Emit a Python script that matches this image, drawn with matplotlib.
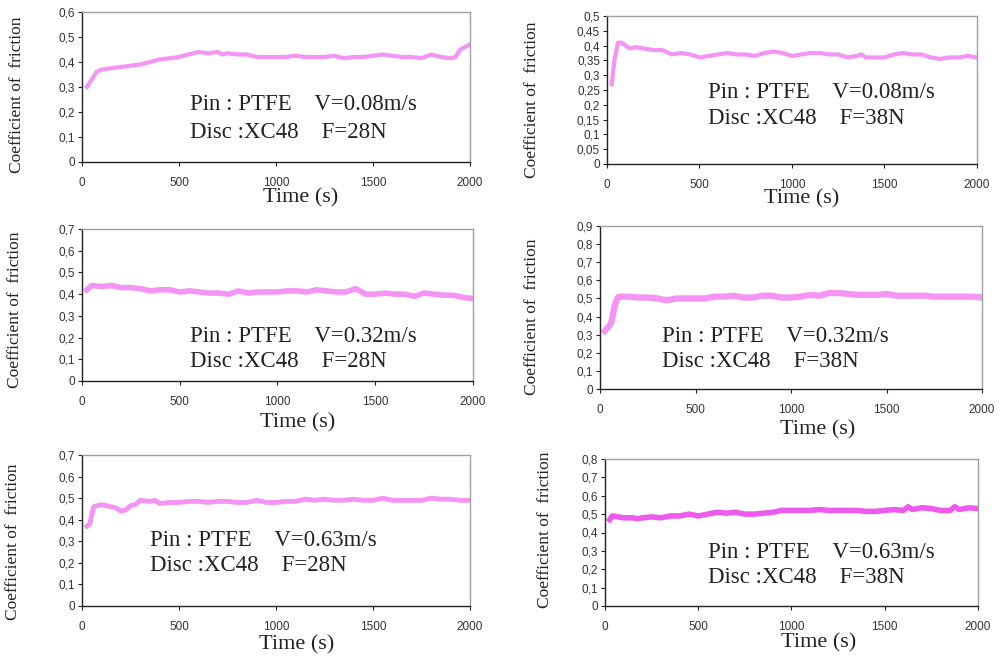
import matplotlib
matplotlib.use("Agg")
import matplotlib.pyplot as plt
from matplotlib.ticker import FuncFormatter

# ---- data (time in s, coefficient of friction) ----
t_a = [25, 50, 75, 100, 150, 200, 250, 300, 350, 400, 450, 500, 550, 600, 650, 700, 725, 750,
       800, 850, 900, 950, 1000, 1050, 1100, 1150, 1200, 1250, 1300, 1350, 1400, 1450, 1500,
       1550, 1600, 1650, 1700, 1750, 1800, 1850, 1900, 1925, 1950, 2000]
mu_a = [0.30, 0.33, 0.36, 0.37, 0.375, 0.38, 0.385, 0.39, 0.40, 0.41, 0.415, 0.42, 0.43, 0.44,
        0.435, 0.44, 0.43, 0.435, 0.43, 0.43, 0.42, 0.42, 0.42, 0.42, 0.425, 0.42, 0.42, 0.42,
        0.425, 0.415, 0.42, 0.42, 0.425, 0.43, 0.425, 0.42, 0.42, 0.415, 0.43, 0.42, 0.415,
        0.42, 0.45, 0.47]

t_b = [25, 40, 60, 80, 100, 125, 150, 200, 250, 300, 350, 400, 450, 500, 550, 600, 650, 700,
       750, 800, 850, 900, 950, 1000, 1050, 1100, 1150, 1200, 1250, 1300, 1350, 1375, 1400,
       1450, 1500, 1550, 1600, 1650, 1700, 1750, 1800, 1850, 1900, 1950, 2000]
mu_b = [0.27, 0.35, 0.41, 0.41, 0.40, 0.39, 0.395, 0.39, 0.385, 0.385, 0.37, 0.375, 0.37, 0.36,
        0.365, 0.37, 0.375, 0.37, 0.37, 0.365, 0.375, 0.38, 0.375, 0.365, 0.37, 0.375, 0.375,
        0.37, 0.37, 0.36, 0.365, 0.37, 0.36, 0.36, 0.36, 0.37, 0.375, 0.37, 0.37, 0.36, 0.355,
        0.36, 0.36, 0.365, 0.36]

t_c = [25, 50, 100, 150, 200, 250, 300, 350, 400, 450, 500, 550, 600, 650, 700, 750, 800, 850,
       900, 950, 1000, 1050, 1100, 1150, 1200, 1250, 1300, 1350, 1400, 1450, 1500, 1550, 1600,
       1650, 1700, 1750, 1800, 1850, 1900, 1950, 2000]
mu_c = [0.42, 0.44, 0.435, 0.44, 0.43, 0.43, 0.425, 0.415, 0.42, 0.42, 0.41, 0.415, 0.41,
        0.405, 0.405, 0.40, 0.415, 0.405, 0.41, 0.41, 0.41, 0.415, 0.415, 0.41, 0.42, 0.415,
        0.41, 0.41, 0.425, 0.40, 0.40, 0.405, 0.40, 0.40, 0.39, 0.405, 0.40, 0.395, 0.395,
        0.385, 0.38]

t_d = [25, 50, 60, 75, 90, 100, 150, 200, 250, 300, 350, 400, 450, 500, 550, 600, 650, 700,
       750, 800, 850, 900, 950, 1000, 1050, 1100, 1150, 1200, 1250, 1300, 1350, 1400, 1450,
       1500, 1550, 1600, 1650, 1700, 1750, 1800, 1850, 1900, 1950, 2000]
mu_d = [0.32, 0.35, 0.37, 0.45, 0.50, 0.51, 0.51, 0.505, 0.505, 0.50, 0.49, 0.50, 0.50, 0.50,
        0.50, 0.51, 0.51, 0.515, 0.505, 0.505, 0.515, 0.515, 0.505, 0.505, 0.51, 0.52, 0.515,
        0.53, 0.53, 0.525, 0.52, 0.52, 0.52, 0.525, 0.515, 0.515, 0.515, 0.515, 0.51, 0.51,
        0.51, 0.51, 0.51, 0.505]

t_e = [25, 40, 60, 100, 150, 175, 200, 225, 250, 275, 300, 350, 375, 400, 450, 500, 550, 600,
       650, 700, 750, 800, 850, 900, 950, 1000, 1050, 1100, 1150, 1200, 1250, 1300, 1350, 1400,
       1450, 1500, 1550, 1600, 1650, 1700, 1750, 1800, 1850, 1900, 1950, 2000]
mu_e = [0.37, 0.38, 0.46, 0.47, 0.46, 0.455, 0.44, 0.445, 0.465, 0.47, 0.49, 0.485, 0.49,
        0.475, 0.48, 0.48, 0.485, 0.485, 0.48, 0.485, 0.485, 0.48, 0.48, 0.49, 0.48, 0.48,
        0.485, 0.485, 0.495, 0.49, 0.495, 0.49, 0.49, 0.495, 0.49, 0.49, 0.50, 0.49, 0.49,
        0.49, 0.49, 0.50, 0.495, 0.495, 0.49, 0.49]

t_f = [25, 40, 100, 150, 175, 200, 250, 300, 350, 400, 450, 500, 550, 600, 650, 700, 750, 800,
       850, 900, 950, 1000, 1050, 1100, 1150, 1200, 1250, 1300, 1350, 1400, 1450, 1500, 1550,
       1600, 1625, 1650, 1700, 1750, 1800, 1850, 1875, 1900, 1950, 2000]
mu_f = [0.47, 0.49, 0.48, 0.48, 0.475, 0.48, 0.485, 0.48, 0.49, 0.49, 0.50, 0.49, 0.50, 0.51,
        0.505, 0.51, 0.50, 0.50, 0.505, 0.51, 0.52, 0.52, 0.52, 0.52, 0.525, 0.52, 0.52, 0.52,
        0.52, 0.515, 0.515, 0.52, 0.525, 0.52, 0.54, 0.525, 0.535, 0.53, 0.52, 0.52, 0.54,
        0.525, 0.535, 0.53]

speeds = ["0.08", "0.08", "0.32", "0.32", "0.63", "0.63"]
loads = ["28", "38", "28", "38", "28", "38"]
y_tops = [0.6, 0.5, 0.7, 0.9, 0.7, 0.8]
y_steps = [0.1, 0.05, 0.1, 0.1, 0.1, 0.1]
series = [(t_a, mu_a), (t_b, mu_b), (t_c, mu_c), (t_d, mu_d), (t_e, mu_e), (t_f, mu_f)]

W, H = 1003, 658
# axes boxes in pixels: left, right, top, bottom
boxes = [(82, 470, 12, 162), (607, 977, 16, 164),
         (82, 473, 229, 381), (600, 982, 226, 389),
         (82, 470, 455, 606), (605, 978, 459, 606)]
# text anchors (axes fraction) for the two annotation lines
txt_pos = [(0.278, 0.38, 0.20), (0.273, 0.48, 0.31),
           (0.276, 0.29, 0.125), (0.162, 0.32, 0.166),
           (0.175, 0.437, 0.27), (0.276, 0.367, 0.197)]
# xlabel / ylabel centres in pixels
xlab = [(301, 198), (802, 199), (298, 423), (818, 430), (297, 645), (819, 643)]
ylab = [(17, 95), (532, 100), (15, 310), (532, 317), (13, 542), (545, 530)]
colors = ["#f594f5"] * 5 + ["#ee5aee"]
widths = [3, 3, 4, 4.5, 3.5, 4]

serif = ["Liberation Serif", "DejaVu Serif"]
sans = ["Liberation Sans", "DejaVu Sans"]

fig = plt.figure(figsize=(W / 100, H / 100), dpi=100)

fmt = FuncFormatter(lambda v, p: "{:g}".format(round(v, 3)).replace(".", ","))

for i in range(6):
    l, r, top, bot = boxes[i]
    ax = fig.add_axes([l / W, 1 - bot / H, (r - l) / W, (bot - top) / H])
    t, mu = series[i]
    ax.plot(t, mu, color=colors[i], lw=widths[i], solid_joinstyle="round")
    ax.set_xlim(0, 2000)
    ax.set_ylim(0, y_tops[i])
    ax.set_xticks([0, 500, 1000, 1500, 2000])
    n = int(round(y_tops[i] / y_steps[i]))
    ax.set_yticks([k * y_steps[i] for k in range(n + 1)])
    ax.yaxis.set_major_formatter(fmt)
    ax.tick_params(direction="out", length=3, width=0.8, colors="#222222",
                   labelsize=8.5, labelcolor="#333333")
    ax.tick_params(axis="x", pad=8)
    ax.tick_params(axis="y", pad=2)
    for lab in ax.get_xticklabels() + ax.get_yticklabels():
        lab.set_family(sans)
    for s in ["left", "bottom"]:
        ax.spines[s].set_color("#222222")
        ax.spines[s].set_linewidth(1.0)
    for s in ["top", "right"]:
        ax.spines[s].set_color("#a0a0a0")
        ax.spines[s].set_linewidth(1.0)

    tx, ty1, ty2 = txt_pos[i]
    ax.text(tx, ty1, "Pin : PTFE    V=" + speeds[i] + "m/s", transform=ax.transAxes,
            ha="left", va="center", fontsize=16.5, family=serif, color="#222222")
    ax.text(tx, ty2, "Disc :XC48    F=" + loads[i] + "N", transform=ax.transAxes,
            ha="left", va="center", fontsize=16.5, family=serif, color="#222222")

    fig.text(xlab[i][0] / W, 1 - xlab[i][1] / H, "Time (s)", ha="center", va="center",
             fontsize=16, family=serif, color="#222222")
    fig.text(ylab[i][0] / W, 1 - ylab[i][1] / H, "Coefficient of  friction", ha="center",
             va="center", rotation=90, fontsize=12.5, family=serif, color="#222222")

fig.savefig("out.png", dpi=100)
